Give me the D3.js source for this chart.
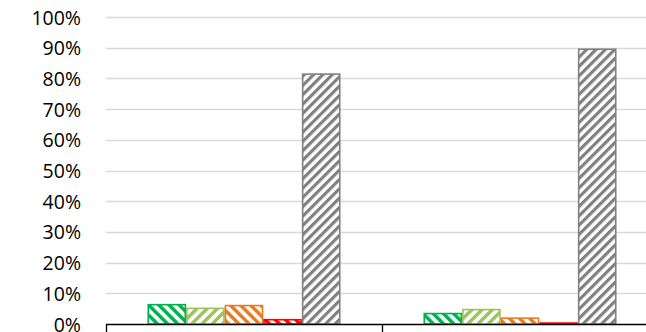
<!DOCTYPE html>
<html><head><meta charset="utf-8">
<script src="https://cdn.jsdelivr.net/npm/d3@7"></script>
<style>
html,body{margin:0;padding:0;background:#fff;overflow:hidden;}
svg{display:block;}
</style></head>
<body>
<svg id="chart" width="646" height="332"></svg>
<script>
const categories = ["Category 1", "Category 2"];
const seriesNames = ["S1", "S2", "S3", "S4", "S5"];
const seriesColors = ["#00B050", "#9BC35A", "#E97A1E", "#FF0000", "#808080"];
const seriesDirection = ["down", "up", "down", "down", "up"];
const values = [
  [0.063, 0.051, 0.060, 0.014, 0.814],
  [0.034, 0.047, 0.019, 0.003, 0.895]
];
const tickValues = [0, 0.1, 0.2, 0.3, 0.4, 0.5, 0.6, 0.7, 0.8, 0.9, 1.0];

(function () {
const svg = d3.select("#chart");
const W = 646, H = 332;
const mLeft = 106, mRight = 658, mTop = 17, mBottom = 324;

const defs = svg.append("defs");
seriesNames.forEach((s, i) => {
  const per = i === 4 ? 6.6 : 7.2;
  const p = defs.append("pattern")
    .attr("id", "pat" + i)
    .attr("patternUnits", "userSpaceOnUse")
    .attr("width", per).attr("height", per)
    .attr("patternTransform", seriesDirection[i] === "up" ? "rotate(45)" : "rotate(-45)");
  p.append("rect").attr("width", per).attr("height", per).attr("fill", "#fff");
  p.append("rect").attr("x", 0).attr("width", per * 0.48).attr("height", per).attr("fill", seriesColors[i]);
});

const y = d3.scaleLinear().domain([0, 1]).range([mBottom, mTop]);
const x0 = d3.scaleBand().domain(categories).range([mLeft, mRight]).padding(0);
const x1 = d3.scaleBand().domain(seriesNames).range([0, x0.bandwidth()]).paddingInner(0).paddingOuter(1.075);

svg.append("g").selectAll("line").data(tickValues.filter(d => d > 0)).join("line")
  .attr("x1", mLeft).attr("x2", mRight)
  .attr("y1", d => Math.round(y(d)) + 0.5).attr("y2", d => Math.round(y(d)) + 0.5)
  .attr("stroke", "#d9d9d9").attr("stroke-width", 1.3);

const yAxis = d3.axisLeft(y).tickValues(tickValues).tickFormat(d3.format(".0%")).tickSize(0).tickPadding(0);
const gy = svg.append("g").attr("transform", `translate(81,0)`).call(yAxis);
gy.select(".domain").remove();
gy.selectAll("text").attr("font-family", "'Open Sans', sans-serif")
  .attr("font-size", "19.5px").attr("fill", "#000").attr("dy", "0.36em");

const groups = svg.append("g").selectAll("g").data(categories).join("g")
  .attr("transform", c => `translate(${x0(c)},0)`);
groups.selectAll("rect").data((c, ci) => seriesNames.map((s, si) => ({s, si, v: values[ci][si]}))).join("rect")
  .attr("x", d => x1(d.s) + 0.75)
  .attr("width", x1.bandwidth() - 1.5)
  .attr("y", d => y(d.v))
  .attr("height", d => mBottom - y(d.v))
  .attr("fill", d => `url(#pat${d.si})`)
  .attr("stroke", d => seriesColors[d.si])
  .attr("stroke-width", 1.6);

svg.append("line").attr("x1", mLeft).attr("x2", mRight).attr("y1", mBottom + 0.5).attr("y2", mBottom + 0.5)
  .attr("stroke", "#000").attr("stroke-width", 1.3);
const bounds = [mLeft].concat(categories.map(c => x0(c) + x0.bandwidth()));
svg.append("g").selectAll("line").data(bounds).join("line")
  .attr("x1", d => Math.round(d) + 0.5).attr("x2", d => Math.round(d) + 0.5)
  .attr("y1", mBottom).attr("y2", H + 5)
  .attr("stroke", "#000").attr("stroke-width", 1.3);
})();
</script>
</body></html>
